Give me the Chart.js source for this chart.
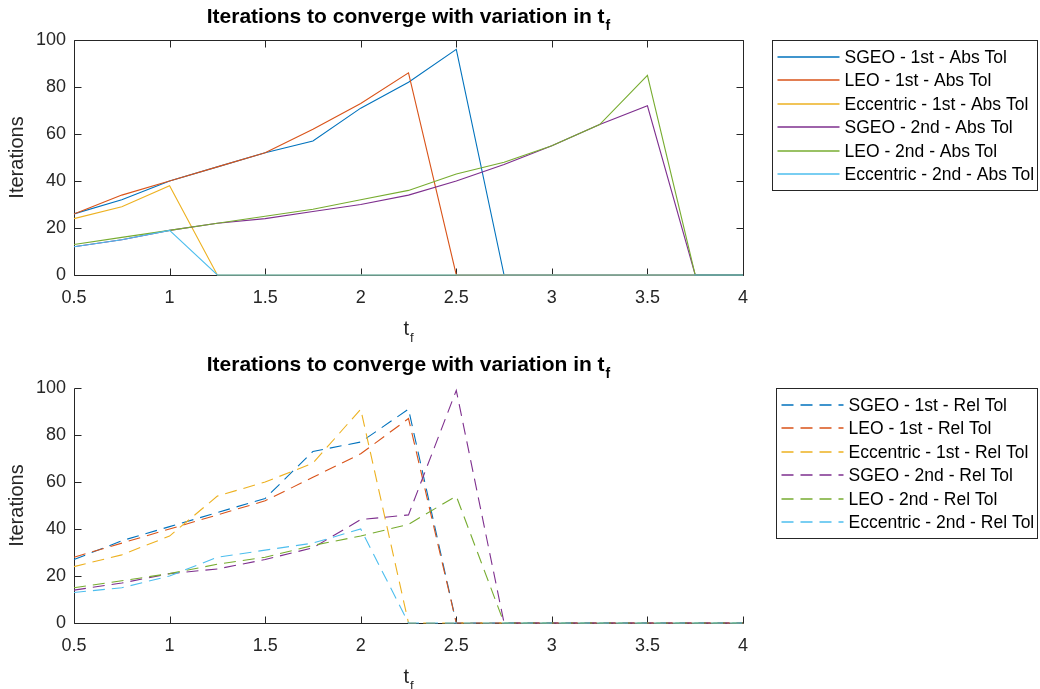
<!DOCTYPE html>
<html>
<head>
<meta charset="utf-8">
<script src="https://cdn.jsdelivr.net/npm/chart.js@4.4.1/dist/chart.umd.min.js"></script>
<style>
  body { margin: 0; background: #fff; }
  #wrap { position: relative; width: 1040px; height: 689px; }
  canvas { position: absolute; left: 0; }
</style>
</head>
<body>
<div id="wrap">
  <canvas id="absChart" width="1040" height="348" style="top:0;width:1040px;height:348px"></canvas>
  <canvas id="relChart" width="1040" height="341" style="top:348px;width:1040px;height:341px"></canvas>
</div>
<script>
// final time values (x axis)
const tf = [0.5, 0.75, 1, 1.25, 1.5, 1.75, 2, 2.25, 2.5, 2.75, 3, 3.25, 3.5, 3.75, 4];

// iterations, absolute tolerance
const sgeo1Abs = [26, 32, 40, 46, 52, 57, 71, 82, 96, 0, 0, 0, 0, 0, 0];
const leo1Abs  = [26, 34, 40, 46, 52, 62, 73, 86, 0, 0, 0, 0, 0, 0, 0];
const ecc1Abs  = [24, 29, 38, 0, 0, 0, 0, 0, 0, 0, 0, 0, 0, 0, 0];
const sgeo2Abs = [12, 15, 19, 22, 24, 27, 30, 34, 40, 47, 55, 64, 72, 0, 0];
const leo2Abs  = [13, 16, 19, 22, 25, 28, 32, 36, 43, 48, 55, 64, 85, 0, 0];
const ecc2Abs  = [12, 15, 19, 0, 0, 0, 0, 0, 0, 0, 0, 0, 0, 0, 0];

// iterations, relative tolerance
const sgeo1Rel = [27, 35, 41, 47, 53, 73, 77, 91, 0, 0, 0, 0, 0, 0, 0];
const leo1Rel  = [28, 34, 40, 46, 52, 62, 72, 87, 0, 0, 0, 0, 0, 0, 0];
const ecc1Rel  = [24, 29, 37, 54, 60, 68, 91, 0, 0, 0, 0, 0, 0, 0, 0];
const sgeo2Rel = [14, 17, 21, 23, 27, 32, 44, 46, 99, 0, 0, 0, 0, 0, 0];
const leo2Rel  = [15, 18, 21, 25, 28, 33, 37, 42, 54, 0, 0, 0, 0, 0, 0];
const ecc2Rel  = [13, 15, 20, 28, 31, 34, 40, 0, 0, 0, 0, 0, 0, 0, 0];

const absLabels = ['SGEO - 1st - Abs Tol', 'LEO - 1st - Abs Tol', 'Eccentric - 1st - Abs Tol',
                   'SGEO - 2nd - Abs Tol', 'LEO - 2nd - Abs Tol', 'Eccentric - 2nd - Abs Tol'];
const relLabels = ['SGEO - 1st - Rel Tol', 'LEO - 1st - Rel Tol', 'Eccentric - 1st - Rel Tol',
                   'SGEO - 2nd - Rel Tol', 'LEO - 2nd - Rel Tol', 'Eccentric - 2nd - Rel Tol'];

const yTicks = [0, 20, 40, 60, 80, 100];

const colors = ['#0072BD', '#D95319', '#EDB120', '#7E2F8E', '#77AC30', '#4DBEEE'];
const FONT = '"Liberation Sans", Arial, Helvetica, sans-serif';
const AXIS = '#262626';

// text with a subscript, centred on cx
function drawSub(ctx, main, sub, cx, base, size, bold) {
  const w = bold ? 'bold ' : '';
  const subSize = Math.round(size * 0.65);
  ctx.font = w + size + 'px ' + FONT;
  const mw = ctx.measureText(main).width;
  ctx.font = w + subSize + 'px ' + FONT;
  const sw = ctx.measureText(sub).width;
  const x = cx - (mw + sw + 1) / 2;
  ctx.textAlign = 'left';
  ctx.textBaseline = 'alphabetic';
  ctx.font = w + size + 'px ' + FONT;
  ctx.fillText(main, x, base);
  ctx.font = w + subSize + 'px ' + FONT;
  ctx.fillText(sub, x + mw + 1, base + size * 0.33);
}

// axis lines and inward tick marks, drawn under the data
const axesPlugin = {
  id: 'matlabAxes',
  beforeDatasetsDraw(chart, args, opts) {
    const { ctx, chartArea: a, scales: { x, y } } = chart;
    const L = Math.round(a.left) + 0.5, R = Math.round(a.right) + 0.5;
    const T = Math.round(a.top) + 0.5, B = Math.round(a.bottom) + 0.5;
    ctx.save();
    ctx.strokeStyle = AXIS;
    ctx.lineWidth = 1;
    ctx.beginPath();
    ctx.moveTo(L, T); ctx.lineTo(L, B); ctx.lineTo(R, B);
    if (opts.box) { ctx.lineTo(R, T); ctx.lineTo(L, T); }
    x.ticks.forEach(t => {
      const px = Math.round(x.getPixelForValue(t.value)) + 0.5;
      ctx.moveTo(px, B); ctx.lineTo(px, B - 7);
      if (opts.box) { ctx.moveTo(px, T); ctx.lineTo(px, T + 7); }
    });
    y.ticks.forEach(t => {
      const py = Math.round(y.getPixelForValue(t.value)) + 0.5;
      ctx.moveTo(L, py); ctx.lineTo(L + 7, py);
      if (opts.box) { ctx.moveTo(R, py); ctx.lineTo(R - 7, py); }
    });
    ctx.stroke();
    ctx.restore();
  }
};

// title, axis labels and the boxed legend to the right of the axes
const textPlugin = {
  id: 'figText',
  afterDraw(chart, args, opts) {
    const { ctx, chartArea: a } = chart;
    const cx = (a.left + a.right) / 2;
    ctx.save();
    ctx.fillStyle = '#000';
    drawSub(ctx, 'Iterations to converge with variation in t', 'f', cx, 23, 21, true);
    ctx.fillStyle = AXIS;
    drawSub(ctx, 't', 'f', cx, 335, 20, false);
    ctx.save();
    ctx.translate(17, (a.top + a.bottom) / 2);
    ctx.rotate(-Math.PI / 2);
    ctx.font = '20px ' + FONT;
    ctx.textAlign = 'center';
    ctx.textBaseline = 'middle';
    ctx.fillText('Iterations', 0, 0);
    ctx.restore();

    // legend
    const sets = chart.data.datasets;
    ctx.font = '17.5px ' + FONT;
    const tw = Math.max(...sets.map(d => ctx.measureText(d.label).width));
    const right = 1037, top = 40, bottom = 190;
    const left = Math.round(right - 72 - tw - 3) + 0.5;
    ctx.fillStyle = '#fff';
    ctx.fillRect(left, top + 0.5, right - left, bottom - top);
    ctx.strokeStyle = AXIS;
    ctx.lineWidth = 1;
    ctx.strokeRect(left, top + 0.5, right + 0.5 - left, bottom - top);
    ctx.textAlign = 'left';
    ctx.textBaseline = 'middle';
    sets.forEach((d, i) => {
      const ry = Math.round(top + 17 + 23.4 * i);
      ctx.strokeStyle = d.borderColor;
      ctx.lineWidth = 1.3;
      ctx.setLineDash(d.borderDash || []);
      ctx.beginPath();
      ctx.moveTo(left + 5, ry);
      ctx.lineTo(left + 67, ry);
      ctx.stroke();
      ctx.setLineDash([]);
      ctx.fillStyle = '#000';
      ctx.fillText(d.label, left + 72, ry + 1);
    });
    ctx.restore();
  }
};

function makeChart(id, labels, series, dashed, box, height) {
  const datasets = series.map((vals, i) => ({
    label: labels[i],
    data: tf.map((t, k) => ({ x: t, y: vals[k] })),
    borderColor: colors[i],
    backgroundColor: colors[i],
    borderWidth: 1.1,
    borderDash: dashed ? [12, 7] : [],
    pointRadius: 0,
    tension: 0,
    fill: false,
    clip: false,
    order: series.length - i
  }));
  return new Chart(document.getElementById(id), {
    type: 'line',
    data: { datasets },
    options: {
      responsive: false,
      animation: false,
      devicePixelRatio: 1,
      layout: { padding: { left: 0, right: 297, top: 40, bottom: 0 } },
      plugins: {
        legend: { display: false },
        title: { display: false },
        tooltip: { enabled: false },
        matlabAxes: { box },
        figText: {}
      },
      scales: {
        x: {
          type: 'linear',
          min: 0.5, max: 4,
          ticks: {
            stepSize: 0.5, color: AXIS, font: { family: FONT, size: 18 }, padding: 12, maxRotation: 0,
            callback: v => String(+v.toFixed(2))
          },
          grid: { display: false, drawTicks: false },
          border: { display: false },
          afterFit(s) { s.height = height - 275; }
        },
        y: {
          min: 0, max: 100,
          afterBuildTicks(s) { s.ticks = yTicks.map(v => ({ value: v })); },
          ticks: { color: AXIS, font: { family: FONT, size: 18 }, padding: 8 },
          grid: { display: false, drawTicks: false },
          border: { display: false },
          afterFit(s) { s.width = 74; }
        }
      }
    },
    plugins: [axesPlugin, textPlugin]
  });
}

makeChart('absChart', absLabels, [sgeo1Abs, leo1Abs, ecc1Abs, sgeo2Abs, leo2Abs, ecc2Abs], false, true, 348);
makeChart('relChart', relLabels, [sgeo1Rel, leo1Rel, ecc1Rel, sgeo2Rel, leo2Rel, ecc2Rel], true, false, 341);
</script>
</body>
</html>
